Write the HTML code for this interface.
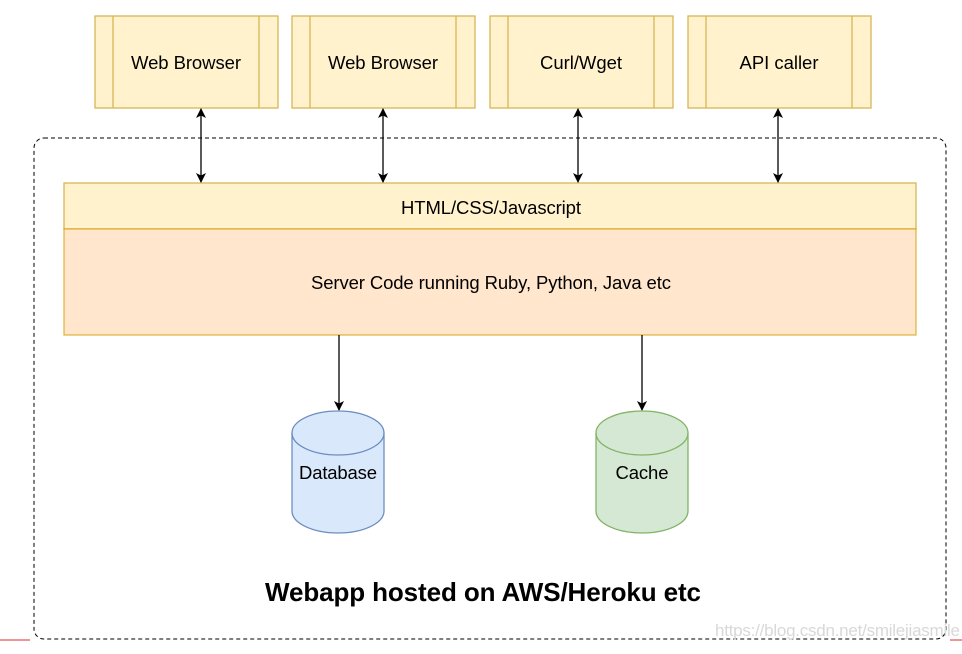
<!DOCTYPE html>
<html><head><style>body{margin:0;background:#fff}</style></head><body>
<svg width="962" height="649" viewBox="0 0 962 649" xmlns="http://www.w3.org/2000/svg" font-family="Liberation Sans, sans-serif">
<defs><marker id="a" markerWidth="10" markerHeight="10" refX="9" refY="5" orient="auto-start-reverse" markerUnits="userSpaceOnUse"><path d="M0,0 L10,5 L0,10 L2.5,5 Z" fill="#000"/></marker></defs>
<g fill="#fff2cc" stroke="#d6b656" stroke-width="1.3">
<rect x="95" y="16" width="183" height="92"/><line x1="113" y1="16" x2="113" y2="108"/><line x1="259" y1="16" x2="259" y2="108"/>
<rect x="292" y="16" width="183" height="92"/><line x1="310" y1="16" x2="310" y2="108"/><line x1="456" y1="16" x2="456" y2="108"/>
<rect x="490" y="16" width="183" height="92"/><line x1="508" y1="16" x2="508" y2="108"/><line x1="654" y1="16" x2="654" y2="108"/>
<rect x="688" y="16" width="183" height="92"/><line x1="706" y1="16" x2="706" y2="108"/><line x1="852" y1="16" x2="852" y2="108"/>
</g>
<g font-size="18.5" text-anchor="middle" fill="#000">
<text x="186" y="69" textLength="110">Web Browser</text><text x="383" y="69" textLength="110">Web Browser</text><text x="581" y="69" textLength="82">Curl/Wget</text><text x="779" y="69" textLength="79">API caller</text>
</g>
<rect x="34" y="138" width="912" height="501" rx="10" fill="none" stroke="#000" stroke-dasharray="4,3" stroke-width="1"/>
<rect x="64" y="183" width="852" height="46" fill="#fff2cc" stroke="#d6b656" stroke-width="1.3"/>
<rect x="64" y="229" width="852" height="106" fill="#ffe6cc" stroke="#d79b00" stroke-opacity="0.7" stroke-width="1.3"/>
<text x="491" y="214" font-size="18.5" text-anchor="middle" textLength="180">HTML/CSS/Javascript</text>
<text x="491" y="289" font-size="18.5" text-anchor="middle" textLength="360">Server Code running Ruby, Python, Java etc</text>
<g stroke="#000" stroke-width="1.3" marker-start="url(#a)" marker-end="url(#a)">
<line x1="201" y1="109" x2="201" y2="182"/><line x1="383" y1="109" x2="383" y2="182"/><line x1="578" y1="109" x2="578" y2="182"/><line x1="778" y1="109" x2="778" y2="182"/>
</g>
<g stroke="#000" stroke-width="1.3" marker-end="url(#a)">
<line x1="339" y1="335" x2="339" y2="410"/><line x1="642" y1="335" x2="642" y2="410"/>
</g>
<g stroke-width="1.3">
<path d="M292,433 A46,22 0 0 1 384,433 V511 A46,22 0 0 1 292,511 Z" fill="#dae8fc" stroke="#6c8ebf"/>
<path d="M292,433 A46,22 0 0 0 384,433" fill="none" stroke="#6c8ebf"/>
<path d="M596,433 A46,22 0 0 1 688,433 V511 A46,22 0 0 1 596,511 Z" fill="#d5e8d4" stroke="#82b366"/>
<path d="M596,433 A46,22 0 0 0 688,433" fill="none" stroke="#82b366"/>
</g>
<text x="338" y="479" font-size="18.5" text-anchor="middle" textLength="78">Database</text>
<text x="642" y="479" font-size="18.5" text-anchor="middle" textLength="53">Cache</text>
<text x="483" y="601" font-size="26" font-weight="bold" text-anchor="middle" textLength="436">Webapp hosted on AWS/Heroku etc</text>
<text x="960" y="636" font-size="17" text-anchor="end" fill="#d8d8d8" textLength="245">https://blog.csdn.net/smilejiasmile</text>
<line x1="0" y1="640" x2="30" y2="640" stroke="#e57373" stroke-width="1.5"/>
<line x1="950" y1="640" x2="962" y2="640" stroke="#e57373" stroke-width="1.5"/>
</svg>
</body></html>
